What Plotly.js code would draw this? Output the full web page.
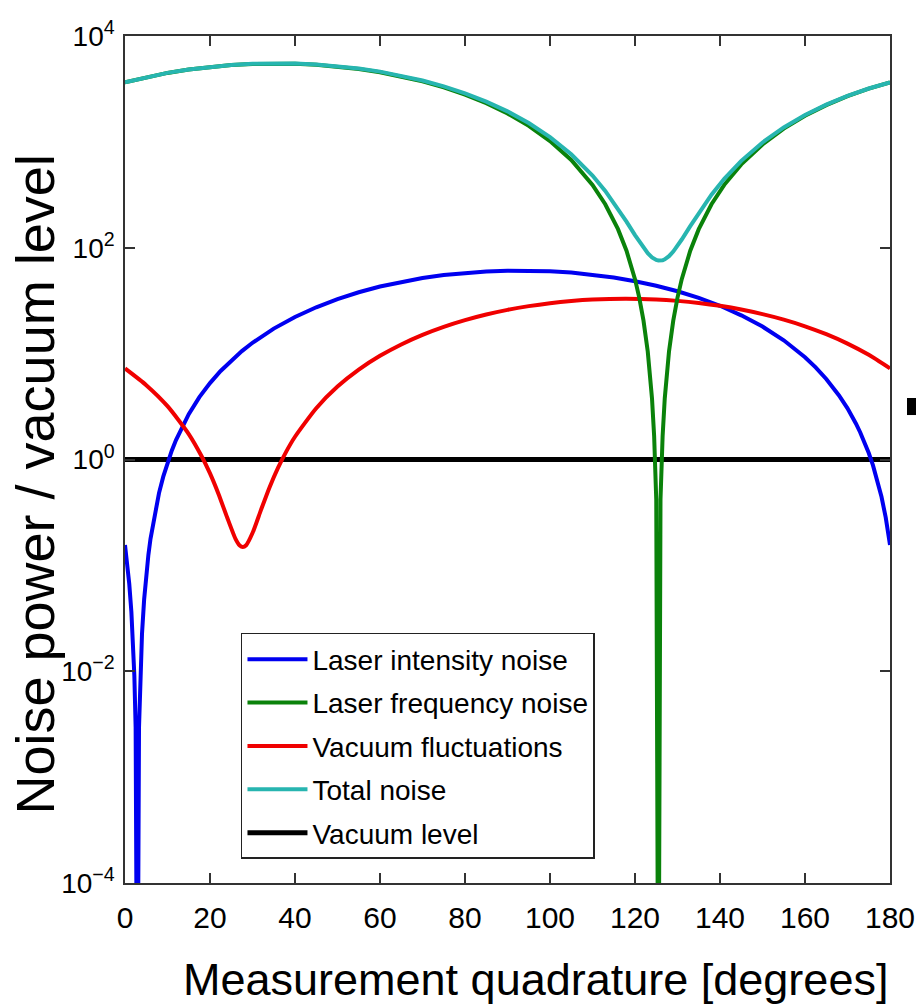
<!DOCTYPE html>
<html>
<head>
<meta charset="utf-8">
<script src="https://cdn.plot.ly/plotly-3.0.1.min.js"></script>
<style>
  html, body { margin: 0; padding: 0; background: #ffffff; }
  #chart { width: 916px; height: 1005px; }
</style>
</head>
<body>
<div id="chart"></div>
<script>
// ---- data (x in degrees, y = noise power / vacuum level) ----
var blueX = [0,0.5,1,1.5,2,2.2,2.5,2.9,3.3,3.6,4,4.5,5,5.5,6,7,8,9,10,11,12,13.5,15,17.5,20,22.5,25,27.5,30,35,40,45,50,55,60,65,70,75,80,85,90,95,100,105,110,115,120,125,130,135,140,145,150,155,160,162.5,165,168,170,171,172,173,174,175,176,177,178,179,180];
var blueY = [0.156,0.107,0.067,0.0364,0.0151,0.0091,0.00297,0.000001,0.00297,0.0091,0.0225,0.0476,0.0819,0.1255,0.178,0.312,0.482,0.689,0.932,1.211,1.526,2.06,2.68,3.88,5.27,6.86,8.63,10.57,12.66,17.23,22.2,27.4,32.7,38.0,43.0,47.6,51.8,55.2,58.0,59.8,60.8,60.9,60.1,58.3,55.7,52.4,48.3,43.8,38.8,33.6,28.3,23.0,18.0,13.36,9.24,7.41,5.76,4.03,3.04,2.59,2.18,1.80,1.46,1.15,0.880,0.645,0.445,0.282,0.156];

var greenX = [0,5,10,15,20,25,30,35.5,40,45,50,55,60,65,70,75,80,85,90,95,100,105,110,113,116,118,120,121,122,123,124,124.5,125,125.5,126,126.5,127,128,129,130,131,133,135,138,141,145,150,155,160,165,170,175,180];
var greenY = [3645,4083,4481,4825,5107,5317,5450,5500,5466,5350,5155,4887,4554,4166,3736,3275,2798,2320,1855,1417,1019,674.6,392.8,257.7,149.8,93.7,50.5,33.86,20.5,10.47,3.77,1.675,0.419,0.000001,0.419,1.675,3.77,10.47,20.5,33.86,50.5,93.7,149.8,257.7,392.8,612.9,945.8,1334,1765,2225,2702,3180,3645];

var redX = [0,5,10,15,18,20,22,24,26,27,27.7,28.5,30,32,34,36,38,40,45,50,55,60,65,70,75,80,85,90,95,100,105,110,117.7,125,130,135,140,145,150,155,160,165,170,175,180];
var redY = [7.25,5.04,3.19,1.74,1.08,0.739,0.473,0.286,0.178,0.154,0.149,0.155,0.202,0.334,0.545,0.834,1.20,1.64,3.05,4.88,7.06,9.53,12.21,15.03,17.89,20.7,23.4,25.9,28.1,29.96,31.4,32.4,33.0,32.47,31.5,30.1,28.27,26.09,23.6,20.94,18.13,15.26,12.43,9.74,7.25];

var totalX = [0,5,10,15,20,25,30,35.5,40,45,50,55,60,65,70,75,80,85,90,95,100,105,110,113,116,118,120,121,122,123,124,124.5,125,125.5,126,126.5,127,128,129,130,131,133,135,138,141,145,150,155,160,165,170,175,180];
var totalY = [3652,4088,4485,4829,5113,5326,5463,5518,5490,5380,5193,4932,4607,4226,3803,3348,2877,2403,1942,1506,1109,764.3,480.9,344.3,234.4,176.7,131.75,114.26,99.9,88.87,81.07,78.5,76.7,75.7,75.5,76.2,77.7,83.2,92.0,104.2,119.6,160.1,213.5,317.2,447.9,662,987.4,1368,1792,2246,2717,3191,3652];

var vacX = [0, 180];
var vacY = [1, 1];

var seriesNames = ["Laser intensity noise", "Laser frequency noise", "Vacuum fluctuations", "Total noise", "Vacuum level"];
var xTickVals = [0,20,40,60,80,100,120,140,160,180];
var yTickVals = [1e-4, 1e-2, 1, 1e2, 1e4];
var yTickText = ["10<sup>\u22124</sup>", "10<sup>\u22122</sup>", "10<sup>0</sup>", "10<sup>2</sup>", "10<sup>4</sup>"];
var xTitle = "Measurement quadrature [degrees]";
var yTitle = "Noise power / vacuum level";

var FONT = "'Liberation Sans', Arial, Helvetica, sans-serif";
var LW = 4;

var traces = [
  {x: vacX, y: vacY, name: seriesNames[4], legendrank: 5, legendgroup: "g5",
   mode: "lines", line: {color: "#000000", width: 5}},
  {x: blueX, y: blueY, name: seriesNames[0], legendrank: 1, legendgroup: "g1",
   mode: "lines", line: {color: "#0000f0", width: LW}},
  {x: redX, y: redY, name: seriesNames[2], legendrank: 3, legendgroup: "g3",
   mode: "lines", line: {color: "#f00000", width: LW, shape: "spline", smoothing: 0.6}},
  {x: greenX, y: greenY, name: seriesNames[1], legendrank: 2, legendgroup: "g2",
   mode: "lines", line: {color: "#0a820a", width: LW}},
  {x: totalX, y: totalY, name: seriesNames[3], legendrank: 4, legendgroup: "g4",
   mode: "lines", line: {color: "#27b5b0", width: LW}}
];

var axisCommon = {
  showgrid: false, zeroline: false,
  showline: true, linecolor: "#333333", linewidth: 1.5,
  mirror: "ticks", ticks: "inside", ticklen: 10, tickwidth: 1.5, tickcolor: "#333333",
  tickfont: {family: FONT, size: 30, color: "#000000"}
};

var layout = {
  width: 916, height: 1005,
  margin: {l: 125, r: 26, t: 36, b: 122, pad: 0},
  paper_bgcolor: "#ffffff", plot_bgcolor: "#ffffff",
  showlegend: true,
  xaxis: Object.assign({}, axisCommon, {
    range: [0, 180], tickmode: "array", tickvals: xTickVals,
    ticklabelstandoff: 7
  }),
  yaxis: Object.assign({}, axisCommon, {
    type: "log", range: [-4, 4], tickmode: "array",
    tickvals: yTickVals, ticktext: yTickText,
    ticklabelstandoff: 3,
    tickfont: {family: FONT, size: 28, color: "#000000"}
  }),
  legend: {
    x: 0.1516, y: 0.2952, xanchor: "left", yanchor: "top",
    bgcolor: "#ffffff", bordercolor: "#222222", borderwidth: 1.5,
    font: {family: FONT, size: 28, color: "#000000"},
    traceorder: "grouped", tracegroupgap: 4, itemwidth: 60
  },
  annotations: [
    {text: xTitle, xref: "paper", yref: "paper", x: 0.536, y: -0.1145,
     xanchor: "center", yanchor: "middle", showarrow: false,
     font: {family: FONT, size: 45, color: "#000000"}},
    {text: yTitle, xref: "paper", yref: "paper", x: -0.1170, y: 0.471,
     xanchor: "center", yanchor: "middle", showarrow: false, textangle: -90,
     font: {family: FONT, size: 54, color: "#000000"}}
  ],
  shapes: [
    {type: "rect", xref: "paper", yref: "paper",
     x0: 1.0222, x1: 1.034, y0: 0.5525, y1: 0.5726,
     fillcolor: "#000000", line: {width: 0}}
  ]
};

Plotly.newPlot("chart", traces, layout, {displayModeBar: false, responsive: false});
</script>
</body>
</html>
